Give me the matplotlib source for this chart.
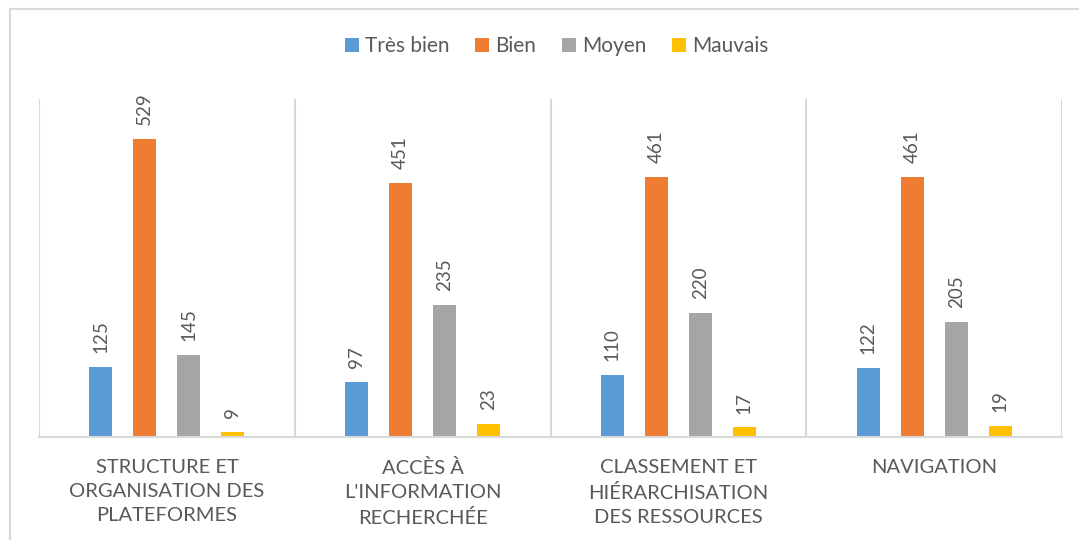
import matplotlib
matplotlib.use("Agg")
import matplotlib.pyplot as plt
import numpy as np
from matplotlib.lines import Line2D

plt.rcParams['font.family'] = ['Lato', 'DejaVu Sans']

categories = ["STRUCTURE ET\nORGANISATION DES\nPLATEFORMES",
              "ACCÈS À\nL'INFORMATION\nRECHERCHÉE",
              "CLASSEMENT ET\nHIÉRARCHISATION\nDES RESSOURCES",
              "NAVIGATION"]
series_names = ["Très bien", "Bien", "Moyen", "Mauvais"]
tres_bien = [125, 97, 110, 122]
bien = [529, 451, 461, 461]
moyen = [145, 235, 220, 205]
mauvais = [9, 23, 17, 19]
colors = ["#5B9BD5", "#ED7D31", "#A5A5A5", "#FFC000"]

text_col = "#595959"
grid_col = "#D9D9D9"

fig = plt.figure(figsize=(10.79, 5.40), dpi=100)
ax = fig.add_axes([39/1079, 103/540, (1062-39)/1079, (437-99)/540])

x = np.arange(len(categories))
width = 0.09
step = 0.172
all_series = [tres_bien, bien, moyen, mauvais]
for i, (name, vals) in enumerate(zip(series_names, all_series)):
    off = (i - 1.5) * step
    bars = ax.bar(x + off, vals, width, color=colors[i], label=name, zorder=3)
    for b, v in zip(bars, vals):
        ax.annotate(str(v), (b.get_x() + b.get_width()/2, b.get_height()),
                    xytext=(0, 10), textcoords="offset points",
                    rotation=90, ha="center", va="bottom",
                    fontsize=13.5, color=text_col)

ax.set_xlim(-0.5, len(categories) - 0.5)
ax.set_ylim(0, 600)
ax.set_xticks(x)
ax.set_xticklabels(categories, fontsize=14.5, color=text_col, linespacing=1.5)
ax.set_xticks(np.arange(-0.5, len(categories)), minor=True)
ax.tick_params(axis="x", which="both", length=0, pad=16)
ax.grid(True, axis="x", which="minor", color=grid_col, linewidth=1.5, zorder=0)
ax.set_yticks([])
for s in ["top", "right", "left"]:
    ax.spines[s].set_visible(False)
ax.spines["bottom"].set_color(grid_col)
ax.spines["bottom"].set_linewidth(1.5)
ax.spines["bottom"].set_zorder(4)

leg = fig.legend(loc="center", bbox_to_anchor=(0.516, 1 - 46/540), ncol=4,
                 frameon=False, fontsize=15, handlelength=0.65, handleheight=0.65,
                 handletextpad=0.3, columnspacing=1.25, labelcolor=text_col)

# chart border (top and left visible, rest off-image)
fig.add_artist(Line2D([10/1079, 1.0], [1 - 9/540, 1 - 9/540], color=grid_col, lw=1.5))
fig.add_artist(Line2D([10/1079, 10/1079], [0, 1 - 9/540], color=grid_col, lw=1.5))

fig.savefig("out.png", dpi=100)
